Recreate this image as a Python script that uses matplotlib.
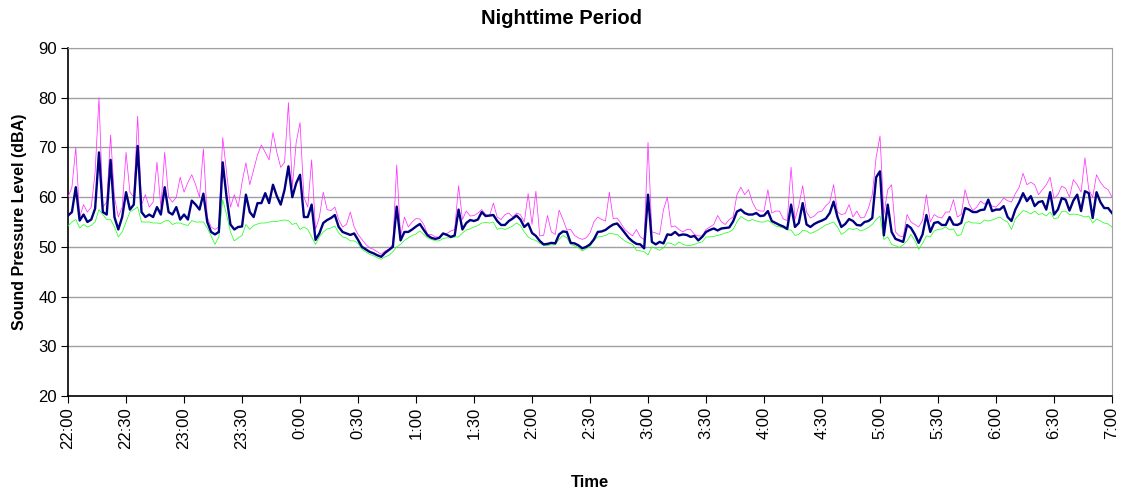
import numpy as np
import matplotlib
matplotlib.use("Agg")
import matplotlib.pyplot as plt

plt.rcParams['font.family'] = ['Liberation Sans', 'DejaVu Sans']

# minutes after 22:00, one reading every 2 minutes
minutes = np.arange(0, 541, 2)

time_labels = ["22:00", "22:30", "23:00", "23:30", "0:00", "0:30", "1:00", "1:30",
               "2:00", "2:30", "3:00", "3:30", "4:00", "4:30", "5:00", "5:30",
               "6:00", "6:30", "7:00"]

# Leq (navy)
leq = [56.3, 57, 62, 55.3, 56.5, 55, 55.5, 57.7, 69, 57, 56.5, 67.5, 56, 53.5, 56, 61,
       57.5, 58.5, 70.3, 57, 56, 56.5, 56, 58, 56.5, 62, 57, 56.5, 58, 55.5, 56.5, 55.5,
       59.3, 58.5, 57.5, 60.7, 55, 53, 52.5, 53, 67, 60, 54.5, 53.5, 54,
       54.1, 60.5, 57, 56, 58.8, 58.8, 60.8, 58.8, 62.5, 60.2, 58.5, 61.5, 66.2, 60, 62.8,
       64.5, 56, 56, 58.5, 51.4, 52.7, 54.8, 55.4, 55.8, 56.4, 54, 53, 52.7, 52.4, 52.7,
       51.4, 50, 49.5, 49, 48.7, 48.3, 48, 48.8, 49.4, 50, 58.1,
       51.3, 53, 53, 53.5, 54.1, 54.6, 53.4, 52.3, 51.8, 51.6, 51.8, 52.7, 52.4, 52, 52.3,
       57.5, 53.5, 54.8, 55.4, 55.2, 55.5, 57, 56.2, 56.3, 56.4, 55.2, 54.4, 54.4, 55.2,
       55.7, 56.3, 55.5, 54, 54.7, 52.8, 52.2, 51.2, 50.5, 50.6, 50.8, 50.7, 52.5, 53.1, 53,
       50.8, 50.7, 50.3, 49.7, 50, 50.5, 51.5, 53, 53.1, 53.4, 54, 54.5, 54.7, 53.8, 52.8,
       51.8, 51.1, 50.6, 50.5, 49.7, 60.5, 51, 50.5, 51, 50.7, 52.5, 52.4, 53, 52.3, 52.5,
       52.4, 52, 52.2, 51.3, 52, 53, 53.4, 53.7, 53.3, 53.7, 53.8, 53.9, 55.1, 57.1,
       57.5, 56.8, 56.5, 56.5, 56.8, 56.2, 56.3, 57.2, 55.2, 54.8, 54.4, 54.1, 53.6, 58.5,
       54, 54.8, 58.8, 54.5, 54, 54.6, 55, 55.3, 55.7, 56.8, 59.1, 56, 54, 54.6, 55.6, 55.2,
       54.4, 54.3, 55, 55.2, 55.8, 64, 65.2, 52.3, 58.5, 53, 51.6, 51.3, 51, 54.4,
       53.8, 52.5, 50.8, 52.5, 56.4, 53, 54.8, 55, 54.4, 54.4, 56, 54.5, 54.4, 54.8, 57.8,
       57.5, 57, 57, 57.4, 57.5, 59.5, 57.2, 57.5, 57.5, 58.2, 56, 55.2, 57.5, 59, 60.8,
       59.2, 60.2, 58.2, 59, 59.2, 57.5, 61, 56.5, 57.5, 59.8, 59.5, 57.3, 59.3, 60.5, 57.2,
       61.2, 60.8, 55.8, 61, 59, 57.8, 57.8, 56.8]

# Lmax (magenta)
lmax = [60, 62, 70, 56, 58.5, 57, 58, 65, 80, 58, 59, 72.5, 60, 56, 58, 69, 61, 60, 76.3,
        58.5, 60.5, 58, 59, 67, 58, 69, 60, 59, 60, 64, 61, 63, 64.5, 62.5, 60, 69.7, 56,
        54, 53.5, 54, 72, 65, 58, 60.5, 58,
        63, 66.9, 62.5, 65.5, 68.5, 70.5, 69, 67.5, 73, 69, 66, 67, 79, 62, 71, 75, 60, 58,
        67.5, 53.5, 56, 61, 57.5, 57.3, 58, 55.5, 54, 54.5, 57, 54, 52.5, 51.5, 50.5, 49.8,
        49.5, 49, 48.5, 49.2, 49.5, 50.5, 66.5,
        52, 56, 54, 55, 55.7, 55.6, 54.5, 52.5, 52.5, 52, 52, 52.7, 52.7, 53.2, 53.5, 62.3,
        55.5, 57.2, 56.2, 56.3, 56.8, 57.5, 56.5, 56.2, 58.8, 56, 55.5, 56.5, 56.8, 56, 56.8,
        56.5, 55, 60.7, 54.5, 61.2, 52.2, 52.3, 56.3, 53, 52.5, 57.4, 55.5, 53.4,
        53.5, 52.3, 51.8, 51.5, 51.8, 52.8, 55, 56, 55.5, 55.2, 61, 55.7, 55.8, 54.7, 53.5,
        52.8, 52.2, 53.5, 52, 51.5, 71, 53, 52.8, 52.5, 57.5, 60, 54, 54.2, 53.5, 53, 53.5,
        53.5, 52.5, 52.2, 52.2, 53.5, 54, 54.5, 56.3, 55, 54.5, 55.5, 56, 60.5,
        62, 60.5, 61.5, 59, 57.5, 57.2, 57.2, 61.5, 56.8, 57.2, 57.2, 55.6, 55.3, 66, 55.5,
        58.3, 62.3, 57, 55.8, 56.2, 57, 57.2, 58.3, 59, 62.5, 57, 56.5, 56.7, 58.5, 56, 57.2,
        55.8, 56, 57.8, 60.5, 68, 72.3, 56.5, 61.5, 62.5, 53, 52.2, 52, 56.5,
        55, 54.5, 54, 55.3, 60.5, 55, 56.5, 56, 55.8, 57, 57, 59.5, 56, 56.5, 61.5, 58.7,
        57.3, 58, 59.2, 58.6, 59.3, 58.2, 58, 58.8, 59.8, 59.3, 59, 60.7, 62, 64.8, 62.5, 63,
        62.5, 60.5, 61.5, 62.5, 64, 59.7, 60.5, 62.2, 61.8, 60, 63.5, 62.5, 61, 67.9, 61.5,
        60, 64.5, 63, 62, 61.5, 60]

# Lmin (green)
lmin = [54.2, 55, 55.5, 53.8, 54.5, 54, 54.3, 55, 57.5, 56.5, 55.5, 55.5, 54, 52, 53, 55,
        57, 57.5, 58, 55, 55, 55, 54.8, 54.8, 54.7, 55.2, 55.3, 54.5, 54.8, 54.8, 54.5, 54.3,
        55.3, 55, 55, 55, 53.8, 52.2, 50.5, 52, 59.5, 56.5, 53, 51.2, 51.8,
        52.3, 54.5, 53.5, 54.3, 54.6, 54.8, 54.8, 55, 55.1, 55.1, 55.3, 55.4, 55.3, 54.5, 54.8,
        53.5, 54, 53.5, 52, 50.5, 52, 53, 53.6, 53.8, 54.2, 52.8, 52, 51.8, 51.2, 51.2, 50.7,
        49.5, 49, 48.5, 48.2, 47.8, 47.5, 48, 48.3, 49, 50,
        50.5, 51.3, 51.8, 52.3, 52.6, 53.2, 52.5, 51.8, 51.5, 51.2, 51.2, 51.7, 51.8, 51.8, 52,
        52, 52.8, 53.4, 53.6, 54, 54.3, 54.8, 54.9, 54.8, 55, 53.5, 53.8, 53.5, 53.8, 54.2,
        54.8, 54.3, 53, 52, 51.5, 51.3, 50.7, 50.3, 50.3, 50.4, 50.4, 51.5, 52.3, 51.8,
        50.5, 50.2, 49.8, 49.2, 49.6, 50.1, 51.3, 52, 52.1, 52.3, 52.7, 52.6, 52.5, 51.8, 51.2,
        50.8, 50.5, 49.3, 49.2, 49, 48.4, 50, 49.7, 49.3, 49.8, 50.8, 50.7, 50.3, 51, 50.5,
        50.3, 50.3, 50.5, 50.8, 51, 52, 52, 52.1, 52.3, 52.5, 52.8, 53, 53.5, 55,
        56.1, 55.6, 55.2, 55.5, 55.2, 55, 55, 55.3, 54.8, 54.2, 54, 53.8, 53.4, 53.4, 52.3,
        52.5, 53.3, 53.2, 52.7, 53, 53.4, 53.9, 54.4, 54.7, 55, 54, 52.5, 53, 53.7, 53.5, 53.7,
        53.2, 53.5, 53.9, 54.5, 55.5, 56.2, 51.5, 52, 50.5, 50.2, 49.9, 50.4, 51.2,
        52.5, 51.3, 49.5, 50.7, 52.2, 52, 53.2, 53.5, 53.6, 54, 53.4, 53.6, 52.2, 52.5, 54.8,
        55.1, 54.8, 54.8, 54.7, 55.4, 55.2, 55.4, 55.7, 56, 55.4, 55, 53.5, 55.6, 56.5, 57.3,
        57.1, 56.6, 57.2, 56.5, 56.7, 56.2, 57, 55.7, 55.8, 57.1, 57.2, 56.5, 56.6, 56.5, 56.3,
        56, 56.2, 54.8, 55.6, 55.2, 54.8, 54.6, 54]

fig = plt.figure(figsize=(11.23, 4.91), dpi=100)
ax = fig.add_axes([0.0606, 0.1935, 0.9296, 0.7087])

ax.plot(minutes, lmax, color='#ff33ff', lw=0.55, zorder=3)
ax.plot(minutes, lmin, color='#22ff22', lw=0.55, zorder=3)
ax.plot(minutes, leq, color='#000080', lw=1.7, zorder=4)

ax.set_xlim(0, 540)
ax.set_ylim(20, 90)
ax.set_yticks(range(20, 91, 10))
ax.set_xticks(range(0, 541, 30))
ax.set_xticklabels(time_labels, rotation=90)
ax.tick_params(axis='both', labelsize=12, direction='out', length=5, width=0.8, pad=3)

ax.grid(axis='y', color='#a0a0a0', lw=1)
ax.set_axisbelow(True)
for s in ['top', 'right']:
    ax.spines[s].set_color('#a0a0a0')
for s in ['left', 'bottom']:
    ax.spines[s].set_color('black')
    ax.spines[s].set_linewidth(1.2)

fig.text(0.5, 1 - 18 / 491, "Nighttime Period", fontsize=14.5, fontweight='bold',
         ha='center', va='center')
ax.set_ylabel("Sound Pressure Level (dBA)", fontsize=11.5, fontweight='bold', labelpad=8)
ax.set_xlabel("Time", fontsize=12, fontweight='bold', labelpad=19)

fig.savefig("out.png", dpi=100)
